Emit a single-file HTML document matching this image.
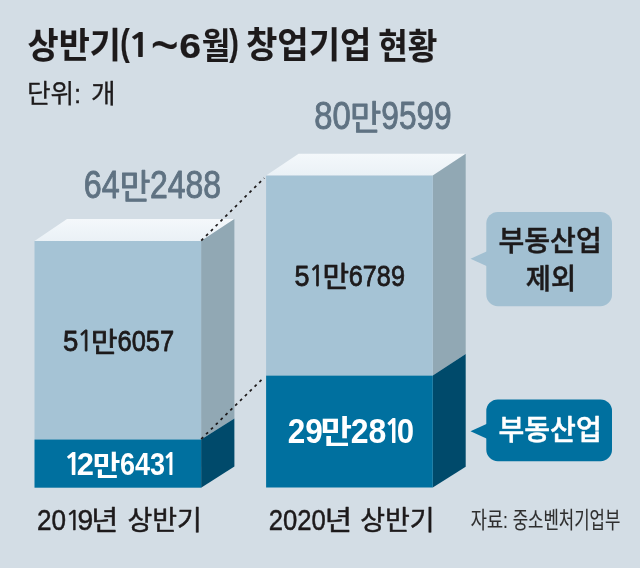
<!DOCTYPE html>
<html lang="ko">
<head>
<meta charset="utf-8">
<title>상반기(1~6월) 창업기업 현황</title>
<style>
html,body{margin:0;padding:0;background:#d3dde5;}
body{width:640px;height:568px;overflow:hidden;position:relative;}
svg{display:block;position:absolute;left:0;top:0;}
text{font-family:"Liberation Sans","Noto Sans CJK KR",sans-serif;white-space:pre;}
.n{font-family:"NanumGothic","Liberation Sans",sans-serif;}
</style>
</head>
<body>
<svg width="640" height="568" viewBox="0 0 640 568">
<defs>
<linearGradient id="gt" x1="0" y1="0" x2="0" y2="1"><stop offset="0" stop-color="#f4f8fb"/><stop offset="1" stop-color="#eaf1f6"/></linearGradient>
</defs>
<rect x="0" y="0" width="640" height="568" fill="#d3dde5"/>
<!-- bar 1 -->
<polygon points="34.5,241 67,219 234.4,219 201.1,241" fill="url(#gt)"/>
<polygon points="201.1,241 234.4,219 234.4,418.6 201.1,439.5" fill="#91a8b4"/>
<polygon points="201.1,439.5 234.4,418.6 234.4,466.6 201.1,487.7" fill="#004a6b"/>
<rect x="34.5" y="241" width="166.6" height="198.5" fill="#a5c3d5"/>
<rect x="34.5" y="439.5" width="166.6" height="48.2" fill="#00709f"/>
<!-- bar 2 -->
<polygon points="266.1,175.6 298.6,153.75 465.7,153.75 432.8,175.6" fill="url(#gt)"/>
<polygon points="432.8,175.6 465.7,153.75 465.7,354 432.8,375.6" fill="#91a8b4"/>
<polygon points="432.8,375.6 465.7,354 465.7,466.8 432.8,487.5" fill="#004a6b"/>
<rect x="266.1" y="175.6" width="166.7" height="200" fill="#a5c3d5"/>
<rect x="266.1" y="375.6" width="166.7" height="111.9" fill="#00709f"/>
<!-- dotted connectors -->
<line x1="201.2" y1="240.6" x2="264.2" y2="178" stroke="#1d1a1b" stroke-width="1.75" stroke-dasharray="2.8 4"/>
<line x1="201.2" y1="439" x2="264.2" y2="377.2" stroke="#1d1a1b" stroke-width="1.75" stroke-dasharray="2.8 4"/>
<!-- callouts -->
<rect x="486.3" y="212" width="125.7" height="94.2" rx="11.5" ry="11.5" fill="#a2c0d2"/>
<polygon points="470.5,258.75 487,251.25 487,266.25" fill="#a2c0d2"/>
<rect x="486.3" y="399.5" width="125.7" height="61.7" rx="11.5" ry="11.5" fill="#00709f"/>
<polygon points="470.5,431.25 487,423.75 487,438.75" fill="#00709f"/>

<text id="title" fill="#1d1a1b" stroke="#1d1a1b" stroke-width="0.15" stroke-linejoin="round"><tspan x="27.55" y="58.3" font-size="35.71" font-weight="bold" textLength="93.31" lengthAdjust="spacingAndGlyphs">상반기</tspan><tspan x="120.15" y="54.86" font-size="37.33" font-weight="bold" textLength="9.55" lengthAdjust="spacingAndGlyphs">(</tspan><tspan class="n" x="126.65" y="57.44" font-size="32.55" font-weight="bold" textLength="25.55" lengthAdjust="spacingAndGlyphs">1</tspan><tspan x="150.7" y="65.76" font-size="61.54" textLength="27.99" lengthAdjust="spacingAndGlyphs">~</tspan><tspan x="179.15" y="57.55" font-size="35.79" font-weight="bold" textLength="21.9" lengthAdjust="spacingAndGlyphs">6</tspan><tspan x="201.75" y="58.54" font-size="36" font-weight="bold" textLength="28.56" lengthAdjust="spacingAndGlyphs">월</tspan><tspan x="229.2" y="54.86" font-size="37.33" font-weight="bold" textLength="9.55" lengthAdjust="spacingAndGlyphs">)</tspan><tspan> </tspan><tspan x="246" y="58.49" font-size="35.83" font-weight="bold" textLength="125.37" lengthAdjust="spacingAndGlyphs">창업기업</tspan><tspan> </tspan><tspan x="378.15" y="58.5" font-size="35.64" font-weight="bold" textLength="59.08" lengthAdjust="spacingAndGlyphs">현황</tspan></text>
<text id="unit" fill="#1d1a1b" stroke="#1d1a1b" stroke-width="0.3" stroke-linejoin="round"><tspan x="26.95" y="103.08" font-size="26.16" textLength="54.32" lengthAdjust="spacingAndGlyphs">단위:</tspan><tspan> </tspan><tspan x="90.95" y="103.08" font-size="26.16" textLength="24.67" lengthAdjust="spacingAndGlyphs">개</tspan></text>
<text id="t1" fill="#5f7282" stroke="#5f7282" stroke-width="0.9" stroke-linejoin="round"><tspan x="83.75" y="198.14" font-size="38.23" textLength="35.91" lengthAdjust="spacingAndGlyphs">64</tspan><tspan x="119.4" y="199.08" font-size="34.62" textLength="31.01" lengthAdjust="spacingAndGlyphs">만</tspan><tspan x="150" y="198.14" font-size="38.23" textLength="71.07" lengthAdjust="spacingAndGlyphs">2488</tspan></text>
<text id="t2" fill="#5f7282" stroke="#5f7282" stroke-width="0.9" stroke-linejoin="round"><tspan x="314.3" y="129.14" font-size="38.23" textLength="36.44" lengthAdjust="spacingAndGlyphs">80</tspan><tspan x="349.9" y="130.08" font-size="34.62" textLength="31.29" lengthAdjust="spacingAndGlyphs">만</tspan><tspan x="381.3" y="129.14" font-size="38.23" textLength="70.34" lengthAdjust="spacingAndGlyphs">9599</tspan></text>
<text id="t3" fill="#1d1a1b" stroke="#1d1a1b" stroke-width="0.8" stroke-linejoin="round"><tspan x="63.05" y="350.52" font-size="30.07" textLength="15.34" lengthAdjust="spacingAndGlyphs">5</tspan><tspan class="n" x="76.9" y="350.71" font-size="28.13" textLength="16.49" lengthAdjust="spacingAndGlyphs">1</tspan><tspan x="91.1" y="351.58" font-size="27.84" textLength="26.45" lengthAdjust="spacingAndGlyphs">만</tspan><tspan x="117.5" y="350.53" font-size="29.66" textLength="56.71" lengthAdjust="spacingAndGlyphs">6057</tspan></text>
<text id="t4" fill="#1d1a1b" stroke="#1d1a1b" stroke-width="0.8" stroke-linejoin="round"><tspan x="294.45" y="285.63" font-size="29.93" textLength="14.99" lengthAdjust="spacingAndGlyphs">5</tspan><tspan class="n" x="308.75" y="285.81" font-size="28" textLength="15.81" lengthAdjust="spacingAndGlyphs">1</tspan><tspan x="322.5" y="286.95" font-size="28.27" textLength="26.57" lengthAdjust="spacingAndGlyphs">만</tspan><tspan x="348.8" y="285.64" font-size="29.52" textLength="56.14" lengthAdjust="spacingAndGlyphs">6789</tspan></text>
<text id="t5" fill="#fff"><tspan class="n" x="62.85" y="475.13" font-size="29.34" font-weight="bold" textLength="20.18" lengthAdjust="spacingAndGlyphs">1</tspan><tspan x="76.8" y="475.2" font-size="31.97" font-weight="bold" textLength="17.21" lengthAdjust="spacingAndGlyphs">2</tspan><tspan x="92.7" y="475.75" font-size="28.24" font-weight="bold" textLength="27.64" lengthAdjust="spacingAndGlyphs">만</tspan><tspan x="119.9" y="474.81" font-size="31.41" font-weight="bold" textLength="45.07" lengthAdjust="spacingAndGlyphs">643</tspan><tspan class="n" x="161.9" y="475.13" font-size="29.34" font-weight="bold" textLength="16.61" lengthAdjust="spacingAndGlyphs">1</tspan></text>
<text id="t6" fill="#fff"><tspan x="287.75" y="442.64" font-size="35.83" font-weight="bold" textLength="35.05" lengthAdjust="spacingAndGlyphs">29</tspan><tspan x="320.45" y="442.73" font-size="31.32" font-weight="bold" textLength="31.58" lengthAdjust="spacingAndGlyphs">만</tspan><tspan x="350.75" y="442.64" font-size="35.83" font-weight="bold" textLength="35.61" lengthAdjust="spacingAndGlyphs">28</tspan><tspan class="n" x="383.6" y="442.92" font-size="33.36" font-weight="bold" textLength="19.04" lengthAdjust="spacingAndGlyphs">1</tspan><tspan x="396.85" y="442.64" font-size="35.83" font-weight="bold" textLength="17.3" lengthAdjust="spacingAndGlyphs">0</tspan></text>
<text id="c1a" fill="#1d1a1b" stroke="#1d1a1b" stroke-width="0.5" stroke-linejoin="round"><tspan x="498.5" y="251.1" font-size="28.69" font-weight="500" textLength="103.24" lengthAdjust="spacingAndGlyphs">부동산업</tspan></text>
<text id="c1b" fill="#1d1a1b" stroke="#1d1a1b" stroke-width="0.5" stroke-linejoin="round"><tspan x="525.75" y="289.32" font-size="28.95" font-weight="500" textLength="50.29" lengthAdjust="spacingAndGlyphs">제외</tspan></text>
<text id="c2" fill="#fff" stroke="#fff" stroke-width="0.5" stroke-linejoin="round"><tspan x="498.5" y="440.35" font-size="28.69" font-weight="500" textLength="103.24" lengthAdjust="spacingAndGlyphs">부동산업</tspan></text>
<text id="ax1" fill="#1d1a1b" stroke="#1d1a1b" stroke-width="0.5" stroke-linejoin="round"><tspan x="36.9" y="529.69" font-size="29.24" textLength="29.07" lengthAdjust="spacingAndGlyphs">20</tspan><tspan class="n" x="65.05" y="529.85" font-size="27.71" textLength="16.81" lengthAdjust="spacingAndGlyphs">1</tspan><tspan x="77.4" y="529.69" font-size="29.24" textLength="15.7" lengthAdjust="spacingAndGlyphs">9</tspan><tspan x="91.35" y="530.45" font-size="27.37" textLength="27.04" lengthAdjust="spacingAndGlyphs">년</tspan><tspan> </tspan><tspan x="127.4" y="529.96" font-size="26.78" textLength="74.4" lengthAdjust="spacingAndGlyphs">상반기</tspan></text>
<text id="ax2" fill="#1d1a1b" stroke="#1d1a1b" stroke-width="0.5" stroke-linejoin="round"><tspan x="268.8" y="529.69" font-size="29.24" textLength="57.05" lengthAdjust="spacingAndGlyphs">2020</tspan><tspan x="324.75" y="530.45" font-size="27.37" textLength="27.35" lengthAdjust="spacingAndGlyphs">년</tspan><tspan> </tspan><tspan x="360.2" y="529.96" font-size="26.78" textLength="74.4" lengthAdjust="spacingAndGlyphs">상반기</tspan></text>
<text id="src" fill="#2e2e2e" stroke="#2e2e2e" stroke-width="0.12" stroke-linejoin="round"><tspan x="470.75" y="528.21" font-size="22.42" textLength="37.12" lengthAdjust="spacingAndGlyphs">자료:</tspan><tspan> </tspan><tspan x="512.65" y="528.16" font-size="22.36" textLength="107.75" lengthAdjust="spacingAndGlyphs">중소벤처기업부</tspan></text>
</svg>
</body>
</html>
